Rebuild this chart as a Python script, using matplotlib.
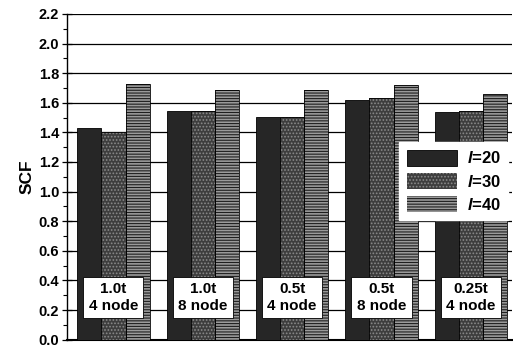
from matplotlib import pyplot as plt
import numpy as np

plt.rcParams['font.family'] = ['Liberation Sans', 'DejaVu Sans']
plt.rcParams['font.weight'] = 'bold'
plt.rcParams['mathtext.fontset'] = 'custom'
plt.rcParams['mathtext.it'] = 'Liberation Sans:bold:italic'
plt.rcParams['mathtext.rm'] = 'Liberation Sans:bold'
plt.rcParams['hatch.linewidth'] = 0.8

# cases (mesh thickness / element type)
cases = ["1.0t\n4 node", "1.0t\n8 node", "0.5t\n4 node", "0.5t\n8 node", "0.25t\n4 node"]
# SCF for the three l values
scf_l20 = [1.43, 1.545, 1.505, 1.62, 1.54]
scf_l30 = [1.405, 1.545, 1.505, 1.63, 1.545]
scf_l40 = [1.726, 1.686, 1.686, 1.72, 1.66]
series_labels = [r"$l$=20", r"$l$=30", r"$l$=40"]

fig = plt.figure(figsize=(5.13, 3.48), dpi=100)
ax = fig.add_axes([0.1306, 0.024, 0.8674, 0.936])

x = np.arange(len(cases))
w = 0.27

b1 = ax.bar(x - w, scf_l20, w, color='#262626', edgecolor='black', linewidth=0.6, zorder=3)
b2 = ax.bar(x, scf_l30, w, color='#3d3d3d', edgecolor='#8a8a8a', hatch='.....', linewidth=0, zorder=3)
b3 = ax.bar(x + w, scf_l40, w, color='#9a9a9a', edgecolor='#1e1e1e', hatch='------', linewidth=0, zorder=3)
for b in b2.patches + b3.patches:
    # black outline on top of the hatch
    ax.add_patch(plt.Rectangle(b.get_xy(), b.get_width(), b.get_height(),
                               fill=False, edgecolor='black', linewidth=0.6, zorder=4))

for xi, txt in zip(x, cases):
    ax.text(xi, 0.285, txt, ha='center', va='center', fontsize=11, fontweight='bold',
            linespacing=1.25, zorder=5,
            bbox=dict(boxstyle='square,pad=0.35', facecolor='white', edgecolor='black', linewidth=0.6))

ax.set_xlim(-0.52, 4.46)
ax.set_ylim(0, 2.2)
ax.set_yticks(np.arange(0, 2.21, 0.2))
ax.set_yticks(np.arange(0.1, 2.2, 0.2), minor=True)
ax.set_yticklabels(["%.1f" % v for v in np.arange(0, 2.21, 0.2)])
ax.set_xticks([])
ax.grid(axis='y', color='black', linewidth=0.9, zorder=0)
ax.set_axisbelow(True)
ax.tick_params(axis='y', which='major', direction='inout', length=7, width=0.9, labelsize=10.5, pad=2)
ax.tick_params(axis='y', which='minor', direction='out', length=3, width=0.8)
for lab in ax.get_yticklabels():
    lab.set_fontweight('bold')
ax.spines['top'].set_visible(False)
ax.spines['right'].set_visible(False)
ax.spines['left'].set_linewidth(1.0)
ax.spines['bottom'].set_linewidth(1.5)
ax.set_ylabel("SCF", fontsize=12.5, fontweight='bold', labelpad=3)

leg = ax.legend([b1, b2, b3], series_labels, loc='upper left', bbox_to_anchor=(0.728, 0.632),
                fontsize=12, handlelength=3.0, handleheight=1.1, handletextpad=0.6,
                labelspacing=0.4, borderpad=0.45, fancybox=False, framealpha=1,
                edgecolor='white', facecolor='white')
leg.set_zorder(6)
for t in leg.get_texts():
    t.set_fontweight('bold')

fig.savefig("out.png", dpi=100)
